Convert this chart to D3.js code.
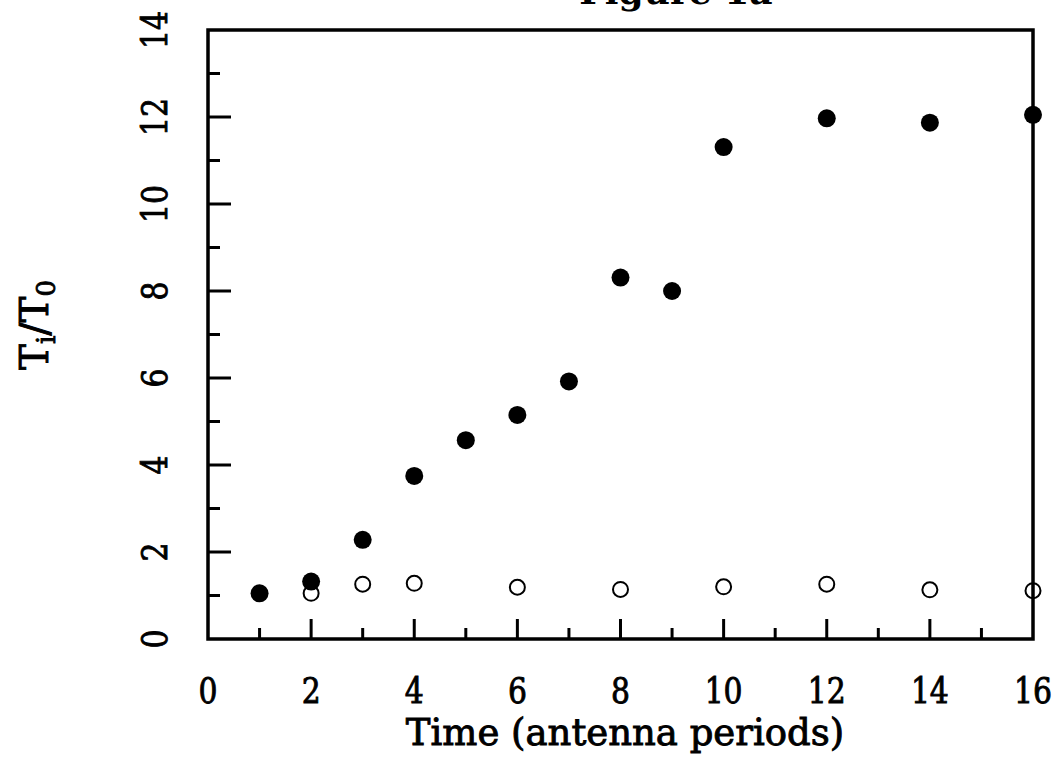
<!DOCTYPE html>
<html>
<head>
<meta charset="utf-8">
<script src="https://cdn.jsdelivr.net/npm/d3@7"></script>
<style>
  html, body { margin: 0; padding: 0; background: #fff; }
  svg { display: block; }
  text { font-family: "DejaVu Serif", "Liberation Serif", serif; fill: #000; }
  text.heavy { stroke: #000; stroke-width: 0.9px; }
</style>
</head>
<body>
<script>
// Ion temperature ratio over time, two runs
const timeFilled = [1, 2, 3, 4, 5, 6, 7, 8, 9, 10, 12, 14, 16];
const ratioFilled = [1.05, 1.32, 2.28, 3.75, 4.57, 5.15, 5.92, 8.31, 8.0, 11.31, 11.97, 11.87, 12.05];
const timeOpen = [2, 3, 4, 6, 8, 10, 12, 14, 16];
const ratioOpen = [1.05, 1.26, 1.28, 1.19, 1.14, 1.20, 1.26, 1.13, 1.11];
const xTicks = [0, 2, 4, 6, 8, 10, 12, 14, 16];
const yTicks = [0, 2, 4, 6, 8, 10, 12, 14];
const xMinor = [1, 3, 5, 7, 9, 11, 13, 15];
const yMinor = [1, 3, 5, 7, 9, 11, 13];

const W = 1061, H = 770;
const plotL = 208, plotR = 1033, plotT = 30, plotB = 639;
const digitW = 19; // set width per digit of the tick labels

const svg = d3.select("body").append("svg").attr("width", W).attr("height", H);

const x = d3.scaleLinear().domain([0, 16]).range([plotL, plotR]);
const y = d3.scaleLinear().domain([0, 14]).range([plotB, plotT]);

// Title (runs off the top edge)
svg.append("text")
  .attr("x", 676).attr("y", 4)
  .attr("text-anchor", "middle")
  .attr("font-size", 36).attr("font-weight", "bold")
  .text("Figure 1a");

// Inward ticks on bottom and left
const tickStyle = g => g.selectAll("line").attr("stroke", "#000").attr("stroke-width", 3);

const gx = svg.append("g");
gx.selectAll("line.major").data(xTicks.filter(d => d > 0 && d < 16)).join("line")
  .attr("class", "major")
  .attr("x1", d => x(d)).attr("x2", d => x(d))
  .attr("y1", plotB).attr("y2", plotB - 20);
gx.selectAll("line.minor").data(xMinor).join("line")
  .attr("class", "minor")
  .attr("x1", d => x(d)).attr("x2", d => x(d))
  .attr("y1", plotB).attr("y2", plotB - 11);
tickStyle(gx);

const gy = svg.append("g");
gy.selectAll("line.major").data(yTicks.filter(d => d > 0 && d < 14)).join("line")
  .attr("class", "major")
  .attr("y1", d => y(d)).attr("y2", d => y(d))
  .attr("x1", plotL).attr("x2", plotL + 23);
gy.selectAll("line.minor").data(yMinor).join("line")
  .attr("class", "minor")
  .attr("y1", d => y(d)).attr("y2", d => y(d))
  .attr("x1", plotL).attr("x2", plotL + 12);
tickStyle(gy);

// Tick labels
svg.append("g").selectAll("text").data(xTicks).join("text")
  .attr("class", "heavy")
  .attr("x", d => x(d)).attr("y", 703)
  .attr("text-anchor", "middle")
  .attr("font-size", 35)
  .attr("textLength", d => String(d).length * digitW)
  .attr("lengthAdjust", "spacingAndGlyphs")
  .text(d => d);

svg.append("g").selectAll("text").data(yTicks).join("text")
  .attr("class", "heavy")
  .attr("transform", d => `translate(167,${y(d)}) rotate(-90)`)
  .attr("text-anchor", "middle")
  .attr("font-size", 35)
  .attr("textLength", d => String(d).length * digitW)
  .attr("lengthAdjust", "spacingAndGlyphs")
  .text(d => d);

// Axis titles
svg.append("text")
  .attr("class", "heavy")
  .attr("x", 625).attr("y", 745)
  .attr("text-anchor", "middle")
  .attr("font-size", 37)
  .text("Time (antenna periods)");

const yt = svg.append("text")
  .attr("class", "heavy")
  .attr("transform", "translate(48,325) rotate(-90)")
  .attr("text-anchor", "middle")
  .attr("font-size", 39);
yt.append("tspan").text("T");
yt.append("tspan").attr("font-size", 26).attr("dy", 7).text("i");
yt.append("tspan").attr("dy", -7).text("/T");
yt.append("tspan").attr("font-size", 26).attr("dy", 7).text("0");

// Open circles
svg.append("g").selectAll("circle").data(timeOpen).join("circle")
  .attr("cx", (d) => x(d))
  .attr("cy", (d, i) => y(ratioOpen[i]))
  .attr("r", 7.5)
  .attr("fill", "none").attr("stroke", "#000").attr("stroke-width", 2);

// Frame
svg.append("rect")
  .attr("x", plotL).attr("y", plotT)
  .attr("width", plotR - plotL).attr("height", plotB - plotT)
  .attr("fill", "none").attr("stroke", "#000").attr("stroke-width", 3.5);

// Filled circles
svg.append("g").selectAll("circle").data(timeFilled).join("circle")
  .attr("cx", (d) => x(d))
  .attr("cy", (d, i) => y(ratioFilled[i]))
  .attr("r", 9)
  .attr("fill", "#000");
</script>
</body>
</html>
